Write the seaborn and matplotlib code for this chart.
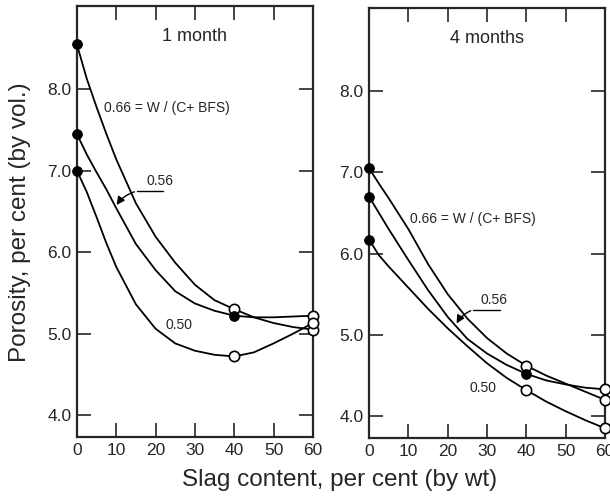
import pandas as pd
import matplotlib
matplotlib.use('Agg')
import matplotlib.pyplot as plt
import seaborn as sns

sns.set_style('ticks')
plt.rcParams['font.family'] = ['Liberation Sans', 'DejaVu Sans']

# slag content where porosity was measured
slag_measured = [0, 40, 60]

# measured porosity, 1 month
m1_066 = [8.55, 5.30, 5.05]
m1_056 = [7.45, 5.22, 5.22]
m1_050 = [7.00, 4.72, 5.13]

# measured porosity, 4 months
m4_066 = [7.05, 4.62, 4.20]
m4_056 = [6.70, 4.52, 4.33]
m4_050 = [6.17, 4.32, 3.85]

# fitted curves
curve_x = [0, 2.5, 5, 7.5, 10, 15, 20, 25, 30, 35, 40, 45, 50, 55, 60]
c1_066 = [8.55, 8.13, 7.78, 7.45, 7.14, 6.60, 6.19, 5.87, 5.60, 5.41, 5.30, 5.20, 5.13, 5.08, 5.05]
c1_056 = [7.45, 7.20, 6.98, 6.77, 6.54, 6.10, 5.78, 5.52, 5.37, 5.28, 5.22, 5.20, 5.20, 5.21, 5.22]
c1_050 = [7.00, 6.74, 6.43, 6.11, 5.82, 5.36, 5.06, 4.88, 4.79, 4.74, 4.72, 4.77, 4.88, 5.00, 5.13]
c4_066 = [7.05, 6.86, 6.68, 6.49, 6.30, 5.87, 5.50, 5.20, 4.96, 4.77, 4.62, 4.50, 4.40, 4.30, 4.20]
c4_056 = [6.70, 6.50, 6.30, 6.11, 5.92, 5.55, 5.22, 4.95, 4.77, 4.63, 4.52, 4.44, 4.39, 4.35, 4.33]
c4_050 = [6.17, 5.98, 5.84, 5.71, 5.58, 5.32, 5.08, 4.86, 4.65, 4.47, 4.32, 4.18, 4.06, 3.95, 3.85]

ratio_labels = ['0.66 = W / (C+ BFS)', '0.56', '0.50']
panel_titles = ['1 month', '4 months']


def draw_panel(ax, curves, points, title):
    for i, (curve, pts) in enumerate(zip(curves, points)):
        sns.lineplot(x=curve_x, y=curve, ax=ax, color='black', linewidth=1.3)
        df = pd.DataFrame({'slag': slag_measured, 'porosity': pts})
        # first point filled; the 0.56 series also filled at 40 %
        filled = df.iloc[[0, 1]] if i == 1 else df.iloc[[0]]
        hollow = df.iloc[[2]] if i == 1 else df.iloc[[1, 2]]
        sns.scatterplot(data=hollow, x='slag', y='porosity', ax=ax, s=55,
                        color='white', edgecolor='black', linewidth=1.2, zorder=3, clip_on=False)
        sns.scatterplot(data=filled, x='slag', y='porosity', ax=ax, s=50,
                        color='black', edgecolor='black', zorder=4, clip_on=False)

    ax.set_xlim(0, 60)
    ax.set_ylim(3.73, 9.02)
    ax.set_xticks(range(0, 61, 10))
    ax.set_yticks([4, 5, 6, 7, 8])
    ax.set_yticklabels(['4.0', '5.0', '6.0', '7.0', '8.0'])
    ax.tick_params(direction='in', length=10, width=1.2, labelsize=12.5,
                   top=True, right=True, pad=4)
    for s in ax.spines.values():
        s.set_linewidth(1.6)
    ax.set_xlabel('')
    ax.set_ylabel('')
    ax.text(0.5, 0.93, title, transform=ax.transAxes, ha='center', va='center', fontsize=13)


fig = plt.figure(figsize=(6.1, 4.99), dpi=100)
ax1 = fig.add_axes([0.126, 0.124, 0.387, 0.864])
ax2 = fig.add_axes([0.605, 0.122, 0.387, 0.862])

draw_panel(ax1, [c1_066, c1_056, c1_050], [m1_066, m1_056, m1_050], panel_titles[0])
draw_panel(ax2, [c4_066, c4_056, c4_050], [m4_066, m4_056, m4_050], panel_titles[1])

# labels on the 1 month panel
ax1.text(6.9, 7.77, ratio_labels[0], fontsize=10, va='center', ha='left')
ax1.text(21.1, 6.87, ratio_labels[1], fontsize=10, va='center', ha='center')
ax1.plot([15.3, 21.9], [6.75, 6.75], color='black', lw=1)
ax1.annotate('', xy=(9.7, 6.55), xytext=(15.3, 6.75),
             arrowprops=dict(arrowstyle='-|>', color='black', lw=1, mutation_scale=12,
                             connectionstyle='arc3,rad=0.2'))
ax1.text(26.0, 5.10, ratio_labels[2], fontsize=10, va='center', ha='center')

# labels on the 4 months panel
ax2.text(10.4, 6.43, ratio_labels[0], fontsize=10, va='center', ha='left')
ax2.text(31.8, 5.43, ratio_labels[1], fontsize=10, va='center', ha='center')
ax2.plot([26.5, 33.3], [5.31, 5.31], color='black', lw=1)
ax2.annotate('', xy=(21.9, 5.11), xytext=(26.5, 5.31),
             arrowprops=dict(arrowstyle='-|>', color='black', lw=1, mutation_scale=12,
                             connectionstyle='arc3,rad=0.2'))
ax2.text(29.0, 4.35, ratio_labels[2], fontsize=10, va='center', ha='center')

fig.text(0.033, 0.555, 'Porosity, per cent (by vol.)', rotation=90, ha='center', va='center', fontsize=17.5)
fig.text(0.556, 0.038, 'Slag content, per cent (by wt)', ha='center', va='center', fontsize=17.5)

fig.savefig('out.png', dpi=100)
